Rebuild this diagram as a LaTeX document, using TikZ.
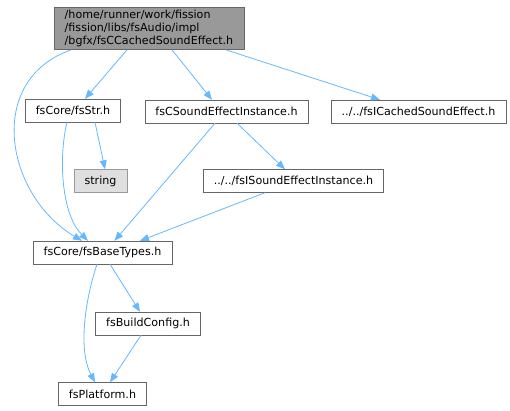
\documentclass[tikz,border=0pt]{standalone}
\usepackage{fontspec}
\setmainfont{DejaVu Sans}
\usepackage{tikz}
\usetikzlibrary{arrows.meta}

\definecolor{edgeblue}{HTML}{63B8FF}
\definecolor{boxline}{HTML}{666666}

\tikzset{
	file/.style={rectangle,draw=boxline,fill=white,inner xsep=10.5pt,inner ysep=0pt,minimum height=23pt,font=\fontsize{11.1}{12.8}\selectfont},
	sysfile/.style={file,draw=gray!80,fill=gray!25},
	dep/.style={draw=edgeblue,line width=0.8pt,-{Triangle[length=9pt,width=7pt,fill=edgeblue]}}
}

\begin{document}
\begin{tikzpicture}[x=1pt,y=-1pt]

	\useasboundingbox (0,0) rectangle (510,411);

	\node[file,fill=gray!80,align=left,inner ysep=3pt] (root) at (149,28.5) {/home/runner/work/fission\\/fission/libs/fsAudio/impl\\/bgfx/fsCCachedSoundEffect.h};
	\node[file] (str) at (73,110.5) {fsCore/fsStr.h};
	\node[file] (csi) at (226.5,111.5) {fsCSoundEffectInstance.h};
	\node[file] (ics) at (418.5,111.5) {../../fsICachedSoundEffect.h};
	\node[sysfile] (string) at (100.5,181) {string};
	\node[file] (isi) at (293.5,181) {../../fsISoundEffectInstance.h};
	\node[file] (base) at (102.5,252.5) {fsCore/fsBaseTypes.h};
	\node[file] (bcfg) at (148,323.5) {fsBuildConfig.h};
	\node[file] (plat) at (102.5,394) {fsPlatform.h};

	\draw[dep] ([xshift=-22pt]root.south) -- ([xshift=12pt]str.north);
	\draw[dep] ([xshift=23pt]root.south) -- ([xshift=-14.5pt]csi.north);
	\draw[dep] ([xshift=-18pt]root.south east) -- ([xshift=-38.5pt]ics.north);
	\draw[dep] ([xshift=17pt]root.south west) .. controls (-15,80) and (5,195) .. ([xshift=-20.5pt]base.north);

	\draw[dep] ([xshift=22pt]str.south) -- ([xshift=4.5pt]string.north);
	\draw[dep] ([xshift=-6pt]str.south) .. controls (58,160) and (62,215) .. ([xshift=-14.5pt]base.north);

	\draw[dep] ([xshift=-11.5pt]csi.south) -- ([xshift=12pt]base.north);
	\draw[dep] ([xshift=10.5pt]csi.south) -- ([xshift=-8.5pt]isi.north);
	\draw[dep] ([xshift=-28.5pt]isi.south) -- ([xshift=37.5pt]base.north);

	\draw[dep] ([xshift=7.5pt]base.south) -- ([xshift=-8pt]bcfg.north);
	\draw[dep] ([xshift=-5.5pt]base.south) .. controls (85,300) and (78,350) .. ([xshift=-7.5pt]plat.north);
	\draw[dep] ([xshift=-7pt]bcfg.south) -- ([xshift=7.5pt]plat.north);

\end{tikzpicture}
\end{document}
